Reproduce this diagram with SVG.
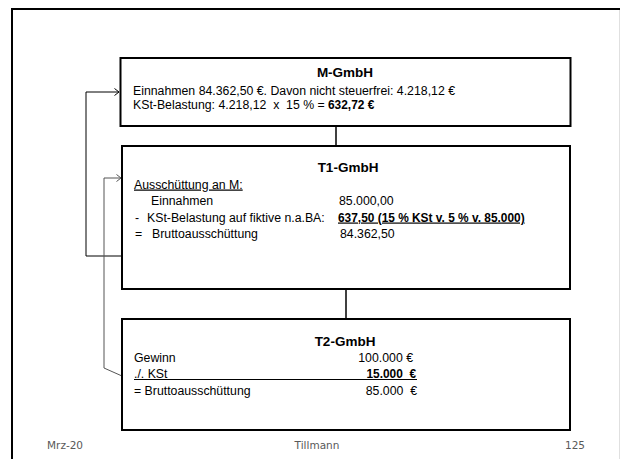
<svg xmlns="http://www.w3.org/2000/svg" width="620" height="459" viewBox="0 0 620 459">
<style>
.box{fill:#fff;stroke:#000;stroke-width:2}
.t{font-family:"Liberation Sans",Arial,sans-serif;font-size:12.3px;fill:#000}
.ttl{font-family:"Liberation Sans",Arial,sans-serif;font-size:13.5px;font-weight:bold;fill:#000;text-anchor:middle}
.b{font-weight:bold;font-size:11.9px}
.u{text-decoration:underline}
.r{text-anchor:end}
.foot{font-family:"DejaVu Sans",Verdana,sans-serif;font-size:10.5px;fill:#595959}
.conn{fill:none;stroke:#000;stroke-width:1}
.conn2{fill:none;stroke:#555;stroke-width:1}
.link{fill:none;stroke:#000;stroke-width:1.5}
</style>
<defs>
<marker id="arr" markerWidth="6" markerHeight="8" refX="5" refY="4" orient="auto" markerUnits="userSpaceOnUse">
<path d="M0.5,0.5 L5,4 L0.5,7.5" fill="none" stroke="#000" stroke-width="1"/>
</marker>
<marker id="arr2" markerWidth="6" markerHeight="8" refX="5" refY="4" orient="auto" markerUnits="userSpaceOnUse">
<path d="M0.5,0.5 L5,4 L0.5,7.5" fill="none" stroke="#555" stroke-width="1"/>
</marker>
</defs>
<rect x="0" y="0" width="620" height="459" fill="#fff"/>
<path d="M12,470 L12,9 L640,9" fill="none" stroke="#000" stroke-width="2"/>
<line x1="619.5" y1="10" x2="619.5" y2="459" stroke="#e0e0e0" stroke-width="1"/>

<g id="connectors">
<line class="link" x1="336" y1="126" x2="336" y2="146"/>
<line class="link" x1="346" y1="289" x2="346" y2="319"/>
<path class="conn" d="M122,256 L86,256 L86,92 L119,92" marker-end="url(#arr)"/>
<path class="conn2" d="M122,376 L104,368 L104,178 L121,178" marker-end="url(#arr2)"/>
</g>

<g id="m-gmbh">
<rect class="box" x="120.5" y="58" width="450" height="68"/>
<text class="ttl" x="345" y="77">M-GmbH</text>
<text class="t" x="133" y="94.5">Einnahmen 84.362,50 €. Davon nicht steuerfrei: 4.218,12 €</text>
<text class="t" x="133" y="109" xml:space="preserve">KSt-Belastung: 4.218,12  x  15 % = <tspan class="b" x="328">632,72 €</tspan></text>
</g>

<g id="t1-gmbh">
<rect class="box" x="122" y="146" width="448" height="143"/>
<text class="ttl" x="348" y="172">T1-GmbH</text>
<text class="t u" x="134" y="188.5">Ausschüttung an M:</text>
<text class="t" x="151" y="205">Einnahmen</text>
<text class="t" x="339" y="205">85.000,00</text>
<text class="t" x="135" y="221.5">-</text>
<text class="t" x="147" y="221.5">KSt-Belastung auf fiktive n.a.BA:</text>
<text class="t b u" x="338" y="221.5">637,50 (15 % KSt v. 5 % v. 85.000)</text>
<text class="t" x="135" y="238">=</text>
<text class="t" x="152" y="238">Bruttoausschüttung</text>
<text class="t" x="340" y="238">84.362,50</text>
</g>

<g id="t2-gmbh">
<rect class="box" x="122" y="319" width="448" height="111"/>
<text class="ttl" x="345" y="345.5">T2-GmbH</text>
<text class="t" x="134" y="361.5">Gewinn</text>
<text class="t r" x="413" y="361.5">100.000 €</text>
<text class="t" x="134" y="377.5">./. KSt</text>
<text class="t b r" x="416" y="377.5" xml:space="preserve">15.000  €</text>
<line x1="134" y1="379.5" x2="417" y2="379.5" stroke="#000" stroke-width="1"/>
<text class="t" x="134" y="394.5">= Bruttoausschüttung</text>
<text class="t r" x="417" y="394.5" xml:space="preserve">85.000  €</text>
</g>

<g id="footer">
<text class="foot" x="47" y="449">Mrz-20</text>
<text class="foot" x="317" y="449" text-anchor="middle">Tillmann</text>
<text class="foot" x="585" y="449" text-anchor="end">125</text>
</g>
</svg>
